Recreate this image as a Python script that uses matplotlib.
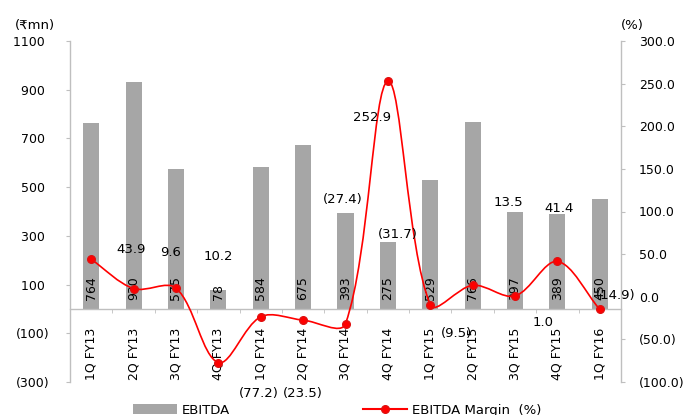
import numpy as np
import matplotlib
matplotlib.use("Agg")
import matplotlib.pyplot as plt
from matplotlib.path import Path
from matplotlib.patches import PathPatch, Patch
from matplotlib.lines import Line2D

plt.rcParams['font.family'] = ['DejaVu Sans']

# ---- data ----
categories = ["1Q FY13", "2Q FY13", "3Q FY13", "4Q FY13", "1Q FY14", "2Q FY14",
              "3Q FY14", "4Q FY14", "1Q FY15", "2Q FY15", "3Q FY15", "4Q FY15", "1Q FY16"]
ebitda = [764, 930, 575, 78, 584, 675, 393, 275, 529, 766, 397, 389, 450]
margin = [43.9, 9.6, 10.2, -77.2, -23.5, -27.4, -31.7, 252.9, -9.5, 13.5, 1.0, 41.4, -14.9]

left_ticks = [-300, -100, 100, 300, 500, 700, 900, 1100]
right_ticks = [-100, -50, 0, 50, 100, 150, 200, 250, 300]

# label placement (layout, in category index / right-axis units)
mlabel_x = [0.95, 1.87, 3.0, 3.95, 5.0, 5.93, 7.23, 6.63, 8.63, 9.84, 10.67, 11.04, 12.37]
mlabel_y = [55, 51.6, 47, -114, -114, 114, 72.7, 210, -43, 111, -30, 104, 2]

W, H = 687, 415
fig = plt.figure(figsize=(W / 100, H / 100), dpi=100)
ax = fig.add_axes([70 / W, 1 - 382 / H, (621 - 70) / W, (382 - 41) / H])
ax2 = ax.twinx()

grey = '#BFBFBF'
bar_col = '#A6A6A6'
x = np.arange(len(categories))

ax.bar(x, ebitda, width=0.38, color=bar_col, zorder=2)
for xi, v in zip(x, ebitda):
    ax.text(xi, 35, f"{v}", rotation=90, ha='center', va='bottom', fontsize=9, zorder=3)

ax.set_xlim(-0.5, len(categories) - 0.5)
ax.set_ylim(-300, 1100)
ax.set_yticks(left_ticks)
ax.set_yticklabels([f"({abs(t)})" if t < 0 else f"{t} " for t in left_ticks])
ax2.set_ylim(-100, 300)
ax2.set_yticks(right_ticks)
ax2.set_yticklabels([f"({abs(t):.1f})" if t < 0 else f"{t:.1f}" for t in right_ticks])

for a in (ax, ax2):
    a.spines['top'].set_visible(False)
    for s in a.spines.values():
        s.set_color(grey)
        s.set_linewidth(1.0)
ax.spines['bottom'].set_position(('data', 0))
ax2.spines['bottom'].set_visible(False)
ax2.spines['left'].set_visible(False)
ax.spines['right'].set_visible(False)

ax.set_xticks(x)
ax.set_xticklabels(categories, rotation=90, fontsize=9)
ax.set_xticks(np.arange(0.5, len(categories) - 0.5, 1), minor=True)
ax.tick_params(axis='x', which='major', length=0, pad=13.5)
ax.tick_params(axis='x', which='minor', length=3, color=grey, direction='out')
ax.tick_params(axis='y', length=3, color=grey, labelsize=9, pad=12)
ax2.tick_params(axis='y', length=3, color=grey, labelsize=9, pad=10)

# smoothed margin line (Excel-like bezier, chord-weighted, in display space)
pts = ax2.transData.transform(np.column_stack([x, margin]).astype(float))
n = len(pts)
t = 1.0 / 3.0
verts = [pts[0]]
codes = [Path.MOVETO]
def d(a, b):
    return np.hypot(*(a - b))
for i in range(n - 1):
    p0 = pts[i - 1] if i > 0 else pts[i]
    p1 = pts[i]
    p2 = pts[i + 1]
    p3 = pts[i + 2] if i + 2 < n else pts[i + 1]
    d01, d12, d23 = d(p0, p1), d(p1, p2), d(p2, p3)
    f1 = t * d12 / (d01 + d12) if (d01 + d12) > 0 else 0
    f2 = t * d12 / (d12 + d23) if (d12 + d23) > 0 else 0
    c1 = p1 + (p2 - p0) * f1
    c2 = p2 - (p3 - p1) * f2
    verts += [c1, c2, p2]
    codes += [Path.CURVE4] * 3
verts = ax2.transData.inverted().transform(np.array(verts))
ax2.add_patch(PathPatch(Path(verts, codes), fill=False, edgecolor='#FF0000', lw=1.2, zorder=4))
ax2.plot(x, margin, linestyle='none', marker='o', markersize=5.5, color='#FF0000',
         markeredgecolor='#E01010', zorder=5)
for lx, ly, v in zip(mlabel_x, mlabel_y, margin):
    s = f"({abs(v):.1f})" if v < 0 else f"{v:.1f}"
    ax2.text(lx, ly, s, ha='center', va='center', fontsize=9.5, zorder=6)

fig.text(35 / W, 1 - 25 / H, "(₹mn)", ha='center', va='center', fontsize=9.5)
fig.text(632 / W, 1 - 25 / H, "(%)", ha='center', va='center', fontsize=9.5)

h1 = Patch(facecolor=bar_col, edgecolor='none')
h2 = Line2D([], [], color='#FF0000', lw=1.5, marker='o', markersize=5.5, markeredgecolor='#E01010')
fig.legend([h1], ["EBITDA"], loc='center left', bbox_to_anchor=(133 / W, 1 - 410 / H),
           frameon=False, borderpad=0, borderaxespad=0, handlelength=3.3,
           handletextpad=0.4, fontsize=9.5)
fig.legend([h2], ["EBITDA Margin  (%)"], loc='center left', bbox_to_anchor=(363 / W, 1 - 410 / H),
           frameon=False, borderpad=0, borderaxespad=0, handlelength=3.3,
           handletextpad=0.4, fontsize=9.5)

fig.savefig("out.png", dpi=100)
